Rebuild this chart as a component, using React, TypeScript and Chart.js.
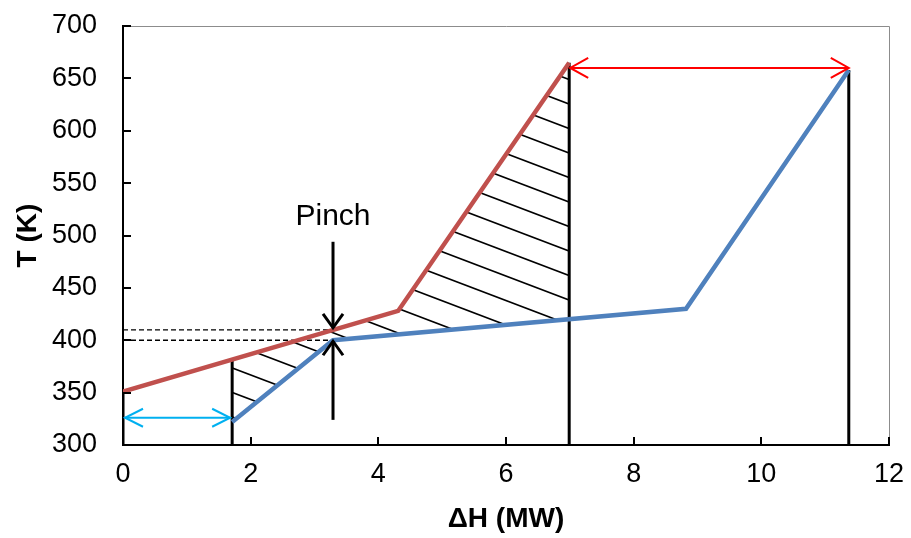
import React, { useEffect, useRef } from "react";
import { Chart, registerables } from "chart.js";

Chart.register(...registerables);

// ---- data ----
const hotH = [0, 4.31, 6.99];
const hotT = [351, 428, 665];
const coldH = [1.71, 3.29, 8.82, 11.37];
const coldT = [322, 400, 430, 658];

const verticalH = [0, 1.71, 6.99, 11.37];
const verticalTopT = [351, 381, 665, 658];

const pinchH = 3.29;
const pinchHotT = 410;
const pinchColdT = 400;
const pinchArrowDownFromT = 494;
const pinchArrowUpFromT = 324;
const pinchLabel = "Pinch";
const pinchLabelT = 510;

const coldUtilityArrowT = 326; // blue arrow
const coldUtilityFromH = 0;
const coldUtilityToH = 1.71;
const hotUtilityArrowT = 660; // red arrow
const hotUtilityFromH = 6.99;
const hotUtilityToH = 11.37;

const hatchFromH = 1.71;
const hatchToH = 6.99;
const hatchAnchorT = 532;

const xMin = 0, xMax = 12, xStep = 2;
const yMin = 300, yMax = 700, yStep = 50;
const xTitle = "ΔH (MW)";
const yTitle = "T (K)";

// ---- styles ----
const RED = "#C0504D";
const BLUE = "#4F81BD";
const FONT = "'Liberation Sans', Arial, sans-serif";

function interp(xs: number[], ys: number[], x: number) {
  for (let i = 0; i < xs.length - 1; i++) {
    if (x >= xs[i] && x <= xs[i + 1]) {
      const t = (x - xs[i]) / (xs[i + 1] - xs[i]);
      return ys[i] + t * (ys[i + 1] - ys[i]);
    }
  }
  return x < xs[0] ? ys[0] : ys[ys.length - 1];
}

function drawArrow(ctx: CanvasRenderingContext2D, x1: number, y1: number, x2: number, y2: number, len: number, half: number, both: boolean) {
  ctx.beginPath();
  ctx.moveTo(x1, y1);
  ctx.lineTo(x2, y2);
  ctx.stroke();
  const head = (tx: number, ty: number, fx: number, fy: number) => {
    const dx = tx - fx, dy = ty - fy;
    const d = Math.hypot(dx, dy);
    const ux = dx / d, uy = dy / d;
    const bx = tx - ux * len, by = ty - uy * len;
    ctx.beginPath();
    ctx.moveTo(bx - uy * half, by + ux * half);
    ctx.lineTo(tx, ty);
    ctx.lineTo(bx + uy * half, by - ux * half);
    ctx.stroke();
  };
  head(x2, y2, x1, y1);
  if (both) head(x1, y1, x2, y2);
}

const annotate = {
  id: "annotate",
  beforeDatasetsDraw(chart: any) {
    const { ctx, chartArea, scales } = chart;
    const xs = scales.x, ys = scales.y;
    const px = (v: number) => xs.getPixelForValue(v);
    const py = (v: number) => ys.getPixelForValue(v);
    const poly: [number, number][] = [];
    poly.push([px(hatchFromH), py(interp(hotH, hotT, hatchFromH))]);
    hotH.forEach((h, i) => { if (h > hatchFromH && h < hatchToH) poly.push([px(h), py(hotT[i])]); });
    poly.push([px(hatchToH), py(interp(hotH, hotT, hatchToH))]);
    poly.push([px(hatchToH), py(interp(coldH, coldT, hatchToH))]);
    for (let i = coldH.length - 1; i >= 0; i--) {
      if (coldH[i] > hatchFromH && coldH[i] < hatchToH) poly.push([px(coldH[i]), py(coldT[i])]);
    }
    poly.push([px(hatchFromH), py(interp(coldH, coldT, hatchFromH))]);
    ctx.save();
    ctx.beginPath();
    poly.forEach(([x, y], i) => (i ? ctx.lineTo(x, y) : ctx.moveTo(x, y)));
    ctx.closePath();
    ctx.clip();
    ctx.strokeStyle = "#000";
    ctx.lineWidth = 1.6;
    const ax = px(hatchToH), ay = py(hatchAnchorT);
    const slope = 0.38, spacing = 24.5;
    for (let k = -40; k <= 40; k++) {
      const y0 = ay + k * spacing;
      ctx.beginPath();
      ctx.moveTo(chartArea.left, y0 + slope * (chartArea.left - ax));
      ctx.lineTo(chartArea.right, y0 + slope * (chartArea.right - ax));
      ctx.stroke();
    }
    ctx.restore();
  },
  afterDatasetsDraw(chart: any) {
    const { ctx, chartArea, scales } = chart;
    const xs = scales.x, ys = scales.y;
    const px = (v: number) => xs.getPixelForValue(v);
    const py = (v: number) => ys.getPixelForValue(v);
    ctx.save();
    ctx.lineCap = "butt";
    ctx.strokeStyle = "#8c8c8c";
    ctx.lineWidth = 1;
    ctx.beginPath();
    ctx.moveTo(chartArea.left, chartArea.top + 0.5);
    ctx.lineTo(chartArea.right + 0.5, chartArea.top + 0.5);
    ctx.lineTo(chartArea.right + 0.5, chartArea.bottom);
    ctx.stroke();
    ctx.strokeStyle = "#000";
    ctx.lineWidth = 2;
    for (let v = yMin; v <= yMax; v += yStep) {
      const y = Math.round(py(v));
      ctx.beginPath();
      ctx.moveTo(chartArea.left, y);
      ctx.lineTo(chartArea.left + 8, y);
      ctx.stroke();
    }
    for (let v = xMin; v <= xMax; v += xStep) {
      const x = Math.round(px(v));
      ctx.beginPath();
      ctx.moveTo(x, chartArea.bottom);
      ctx.lineTo(x, chartArea.bottom - 8);
      ctx.stroke();
    }
    ctx.lineWidth = 2;
    ctx.strokeStyle = "#00B0F0";
    drawArrow(ctx, px(coldUtilityFromH) + 2, py(coldUtilityArrowT), px(coldUtilityToH) - 2, py(coldUtilityArrowT), 18, 9, true);
    ctx.strokeStyle = "#FF0000";
    drawArrow(ctx, px(hotUtilityFromH) + 1, py(hotUtilityArrowT), px(hotUtilityToH), py(hotUtilityArrowT), 18, 10, true);
    ctx.strokeStyle = "#000";
    ctx.lineWidth = 3;
    drawArrow(ctx, px(pinchH), py(pinchArrowDownFromT), px(pinchH), py(pinchHotT) - 2, 14, 10, false);
    drawArrow(ctx, px(pinchH), py(pinchArrowUpFromT), px(pinchH), py(pinchColdT) + 1, 14, 10, false);
    ctx.fillStyle = "#000";
    ctx.font = `30px ${FONT}`;
    ctx.textAlign = "center";
    ctx.textBaseline = "alphabetic";
    ctx.fillText(pinchLabel, px(pinchH), py(pinchLabelT));
    ctx.restore();
  },
};

function seg(xa: number[], ya: number[], color: string, width: number, dash: number[] = []) {
  return {
    data: xa.map((x, i) => ({ x, y: ya[i] })),
    showLine: true,
    borderColor: color,
    borderWidth: width,
    borderDash: dash,
    pointRadius: 0,
    fill: false,
    tension: 0,
    borderCapStyle: "butt",
    borderJoinStyle: "miter",
  };
}

const zeroPad = (s: any) => {
  s.paddingTop = 0;
  s.paddingBottom = 0;
  s.paddingLeft = 0;
  s.paddingRight = 0;
};

export default function App() {
  const ref = useRef<HTMLCanvasElement>(null);
  useEffect(() => {
    if (!ref.current) return;
    const datasets: any[] = [
      seg(hotH, hotT, RED, 4.5),
      seg(coldH, coldT, BLUE, 4.5),
      seg([xMin, pinchH], [pinchHotT, pinchHotT], "#000", 1.3, [5, 3]),
      seg([xMin, pinchH], [pinchColdT, pinchColdT], "#000", 1.3, [5, 3]),
      ...verticalH.map((h, i) => seg([h, h], [yMin, verticalTopT[i]], "#000", 3)),
    ];
    const chart = new Chart(ref.current, {
      type: "scatter",
      data: { datasets },
      options: {
        responsive: false,
        animation: false,
        devicePixelRatio: 1,
        layout: { padding: { top: 26, right: 22, left: 0, bottom: 0 } },
        plugins: { legend: { display: false }, tooltip: { enabled: false } },
        scales: {
          x: {
            type: "linear",
            min: xMin,
            max: xMax,
            ticks: { stepSize: xStep, color: "#000", font: { family: FONT, size: 27 }, padding: 13, maxRotation: 0 },
            grid: { drawOnChartArea: false, drawTicks: false },
            border: { color: "#000", width: 2 },
            title: { display: true, text: xTitle, color: "#000", font: { family: FONT, size: 28, weight: "bold" }, padding: { top: 0, bottom: 2 } },
            afterFit: (s: any) => { s.height = 93; zeroPad(s); },
          },
          y: {
            type: "linear",
            min: yMin,
            max: yMax,
            ticks: { stepSize: yStep, color: "#000", font: { family: FONT, size: 27 }, padding: 26 },
            grid: { drawOnChartArea: false, drawTicks: false },
            border: { color: "#000", width: 2 },
            title: { display: true, text: yTitle, color: "#000", font: { family: FONT, size: 28, weight: "bold" }, padding: { top: 11, bottom: 0 } },
            afterFit: (s: any) => { s.width = 123; zeroPad(s); },
          },
        },
      },
      plugins: [annotate],
    } as any);
    return () => chart.destroy();
  }, []);
  return (
    <div style={{ position: "absolute", left: 0, top: 0, width: 911, height: 538, background: "#fff" }}>
      <canvas ref={ref} width={911} height={538} style={{ display: "block", width: 911, height: 538 }} />
    </div>
  );
}
